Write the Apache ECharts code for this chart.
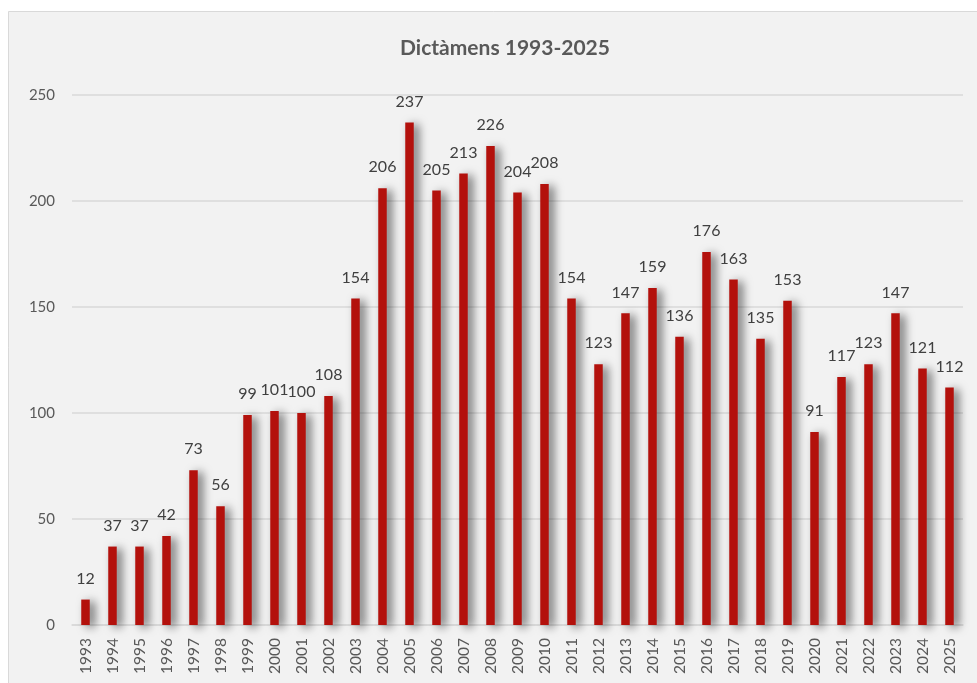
<!DOCTYPE html>
<html><head><meta charset="utf-8">
<script src="https://cdn.jsdelivr.net/npm/echarts@6/dist/echarts.min.js"></script>
<style>html,body{margin:0;padding:0;background:#fff;}#c{width:977px;height:683px;}</style>
</head><body><div id="c"></div>
<script>
const years = ['1993','1994','1995','1996','1997','1998','1999','2000','2001','2002','2003','2004','2005','2006','2007','2008','2009','2010','2011','2012','2013','2014','2015','2016','2017','2018','2019','2020','2021','2022','2023','2024','2025'];
const dictamens = [12,37,37,42,73,56,99,101,100,108,154,206,237,205,213,226,204,208,154,123,147,159,136,176,163,135,153,91,117,123,147,121,112];
const yTicks = {min:0, max:250, interval:50};
const titleText = 'Dictàmens 1993-2025';
const FONT = 'Lato';
const chart = echarts.init(document.getElementById('c'), null, {renderer:'canvas'});
chart.setOption({
  backgroundColor:'#ffffff',
  animation:false,
  graphic:[{type:'rect', z:-10, silent:true, shape:{x:8.5,y:11.5,width:1100,height:1100}, style:{fill:'#f2f2f2', stroke:'#d9d9d9', lineWidth:1}}],
  title:{text:titleText, top:33, left:500, textAlign:'center', textStyle:{fontFamily:FONT, fontSize:21, fontWeight:'bold', color:'#595959'}},
  grid:{left:72, right:14, top:95, bottom:58},
  xAxis:{type:'category', data:years,
    axisLine:{lineStyle:{color:'#d9d9d9', width:1.5}}, axisTick:{show:false},
    axisLabel:{rotate:90, fontFamily:FONT, fontSize:15.5, color:'#595959', margin:13, interval:0}},
  yAxis:{type:'value', min:yTicks.min, max:yTicks.max, interval:yTicks.interval,
    axisLine:{show:false}, axisTick:{show:false},
    splitLine:{lineStyle:{color:'#d9d9d9', width:1.5}},
    axisLabel:{fontFamily:FONT, fontSize:15, color:'#595959', margin:17}},
  series:[{type:'bar', data:dictamens, barWidth:8.5,
    itemStyle:{color:'#b3110c', shadowColor:'rgba(0,0,0,0.55)', shadowBlur:10, shadowOffsetX:5, shadowOffsetY:2},
    label:{show:true, position:'top', distance:13, fontFamily:FONT, fontSize:16, color:'#404040'}}]
});
</script></body></html>
